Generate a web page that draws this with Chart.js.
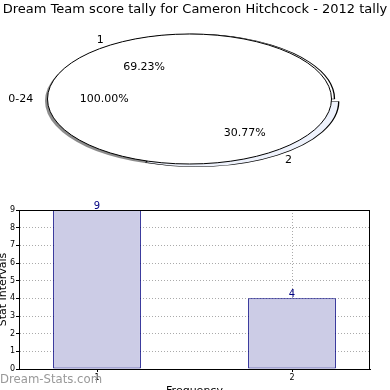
<!DOCTYPE html>
<html>
<head>
<meta charset="utf-8">
<script src="https://cdn.jsdelivr.net/npm/chart.js@4"></script>
<style>
  html, body { margin: 0; padding: 0; background: #fff; }
  body { width: 390px; height: 390px; overflow: hidden; position: relative; }
  .pieWrap { position: absolute; left: 0; top: 0; width: 390px; height: 195px; }
  #barWrap { position: absolute; left: 0; top: 195px; width: 390px; height: 200px; }
  #mark { position: absolute; left: 0; top: 372px; font: 11.7px "DejaVu Sans", sans-serif; color: #999; }
</style>
</head>
<body>
<div class="pieWrap"><canvas id="pieOuter"></canvas></div>
<div class="pieWrap"><canvas id="pieInner"></canvas></div>
<div id="barWrap"><canvas id="bar"></canvas></div>
<div id="mark">Dream-Stats.com</div>
<script>
const chartTitle = "Dream Team score tally for Cameron Hitchcock - 2012 tally";
const categories = ["1", "2"];
const counts = [9, 4];
const rangeLabels = ["0-24"];
const rangeCounts = [13];
const yMax = 9;

// pie goes clockwise from 3 o'clock, so the slices are listed in reverse
const pieOrder = [1, 0];
const pieNames = pieOrder.map(i => categories[i]);
const pieCounts = pieOrder.map(i => counts[i]);

const font = "'DejaVu Sans', sans-serif";
// ellipse that the round pie gets squashed into
const ell = { cx: 189.5, cy: 99, rx: 142, ry: 65 };
const outerShift = 3;

function squash(chart, shiftX) {
  const ctx = chart.ctx;
  const arc = chart.getDatasetMeta(0).data[0];
  const r = arc.outerRadius;
  ctx.translate(ell.cx + shiftX, ell.cy);
  ctx.scale(ell.rx / r, ell.ry / r);
  ctx.translate(-arc.x, -arc.y);
}

function mapPoint(chart, shiftX, a, k, extra) {
  const r = chart.getDatasetMeta(0).data[0].outerRadius;
  const mid = (a.startAngle + a.endAngle) / 2;
  const d = k * r + extra;
  return {
    x: ell.cx + shiftX + Math.cos(mid) * d * ell.rx / r,
    y: ell.cy + Math.sin(mid) * d * ell.ry / r,
    c: Math.cos(mid)
  };
}

function drawLabels(ctx, chart, shiftX) {
  ctx.save();
  ctx.font = "11px " + font;
  ctx.fillStyle = "#000";
  ctx.textBaseline = "middle";
  chart.data.datasets.forEach((ds, di) => {
    const meta = chart.getDatasetMeta(di);
    const total = ds.data.reduce((a, b) => a + b, 0);
    meta.data.forEach((a, i) => {
      const off = (a.options.offset || 0) / 4;
      const p = mapPoint(chart, shiftX, a, 1.1, off);
      ctx.textAlign = p.c < -0.01 ? "right" : (p.c > 0.01 ? "left" : "center");
      ctx.fillText(ds.names[i], p.x, p.y);
      const q = mapPoint(chart, shiftX, a, 0.6, off);
      ctx.textAlign = "center";
      ctx.fillText((ds.data[i] / total * 100).toFixed(2) + "%", q.x, q.y);
    });
  });
  ctx.restore();
}

const outerPlugin = {
  id: "outerPie",
  beforeDatasetsDraw(chart) {
    const ctx = chart.ctx;
    const arc = chart.getDatasetMeta(0).data[0];
    // drop shadow under the whole pie
    ctx.save();
    squash(chart, -2.5);
    ctx.translate(0, 2 * arc.outerRadius / ell.ry);
    ctx.beginPath();
    ctx.arc(arc.x, arc.y, arc.outerRadius, 0, Math.PI * 2);
    ctx.fillStyle = "rgba(0,0,0,0.45)";
    ctx.fill();
    ctx.restore();
    ctx.save();
    squash(chart, outerShift);
  },
  afterDatasetsDraw(chart) {
    chart.ctx.restore();
  }
};

const pieOptions = {
  responsive: true,
  maintainAspectRatio: false,
  animation: false,
  rotation: 90,
  layout: { padding: { bottom: 10 } },
  plugins: {
    legend: { display: false },
    tooltip: { enabled: false },
    title: {
      display: true,
      text: chartTitle,
      color: "#000",
      font: { size: 13, family: font, weight: "normal" },
      padding: { top: 2, bottom: 4 }
    }
  }
};

const outerChart = new Chart(document.getElementById("pieOuter"), {
  type: "pie",
  data: {
    labels: pieNames,
    datasets: [{
      names: pieNames,
      data: pieCounts,
      backgroundColor: ["#eef2fc", "#ffffff"],
      borderColor: "#000",
      borderWidth: 0.7,
      offset: [14, 0],
      clip: false
    }]
  },
  options: pieOptions,
  plugins: [outerPlugin]
});

// white inner pie sits on top; it also carries all the pie labels
const innerPlugin = {
  id: "innerPie",
  beforeDatasetsDraw(chart) {
    chart.ctx.save();
    squash(chart, 0);
  },
  afterDatasetsDraw(chart) {
    const ctx = chart.ctx;
    const arc = chart.getDatasetMeta(0).data[0];
    ctx.beginPath();
    ctx.arc(arc.x, arc.y, arc.outerRadius, 0, Math.PI * 2);
    ctx.restore();
    ctx.strokeStyle = "#000";
    ctx.lineWidth = 1;
    ctx.stroke();
    drawLabels(ctx, outerChart, outerShift);
    drawLabels(ctx, chart, 0);
  }
};

new Chart(document.getElementById("pieInner"), {
  type: "pie",
  data: {
    labels: rangeLabels,
    datasets: [{
      names: rangeLabels,
      data: rangeCounts,
      backgroundColor: "#ffffff",
      borderWidth: 0,
      clip: false
    }]
  },
  options: {
    ...pieOptions,
    plugins: { ...pieOptions.plugins, title: { ...pieOptions.plugins.title, color: "rgba(0,0,0,0)" } }
  },
  plugins: [innerPlugin]
});

const boxPlugin = {
  id: "box",
  afterDraw(chart) {
    const { ctx, chartArea: a } = chart;
    ctx.save();
    ctx.strokeStyle = "#000";
    ctx.lineWidth = 1;
    ctx.strokeRect(Math.round(a.left) + 0.5, Math.round(a.top) + 0.5, Math.round(a.right - a.left) - 1, Math.round(a.bottom - a.top));
    ctx.restore();
  }
};

const valuePlugin = {
  id: "values",
  afterDatasetsDraw(chart) {
    const ctx = chart.ctx;
    const meta = chart.getDatasetMeta(0);
    ctx.save();
    ctx.font = "10px " + font;
    ctx.fillStyle = "#000080";
    ctx.textAlign = "center";
    ctx.textBaseline = "bottom";
    meta.data.forEach((b, i) => ctx.fillText(String(counts[i]), b.x, b.y + 1));
    ctx.restore();
  }
};

new Chart(document.getElementById("bar"), {
  type: "bar",
  data: {
    datasets: [{
      data: categories.map((c, i) => ({ x: Number(c), y: counts[i] })),
      backgroundColor: "#ccccE6",
      borderColor: "#000080",
      borderWidth: 1,
      borderSkipped: false,
      barPercentage: 0.45,
      categoryPercentage: 1
    }]
  },
  options: {
    responsive: true,
    maintainAspectRatio: false,
    animation: false,
    layout: { padding: { top: 15, right: 20, left: 0, bottom: 0 } },
    plugins: { legend: { display: false }, tooltip: { enabled: false } },
    scales: {
      x: {
        type: "linear",
        min: 0.6,
        max: 2.4,
        offset: false,
        afterBuildTicks: s => { s.ticks = categories.map(c => ({ value: Number(c) })); },
        afterFit: s => { s.height = 26; },
        ticks: { font: { size: 8, family: font }, color: "#000", padding: 1, callback: v => String(v) },
        grid: { offset: false, color: "#aaa", tickColor: "#000", tickLength: 3 },
        border: { color: "#000", dash: [1, 2] },
        title: { display: true, text: "Frequency", color: "#000", font: { size: 11, family: font }, padding: { top: 0, bottom: -3 } }
      },
      y: {
        min: 0,
        max: yMax,
        afterFit: s => { s.width = 19; },
        ticks: { stepSize: 1, font: { size: 8, family: font }, color: "#000", padding: 1 },
        grid: { color: "#aaa", tickColor: "#000", tickLength: 3 },
        border: { color: "#000", dash: [1, 2] },
        title: { display: true, text: "Stat Intervals", color: "#000", font: { size: 11, family: font }, padding: { top: -3, bottom: 0 } }
      }
    }
  },
  plugins: [boxPlugin, valuePlugin]
});
</script>
</body>
</html>
